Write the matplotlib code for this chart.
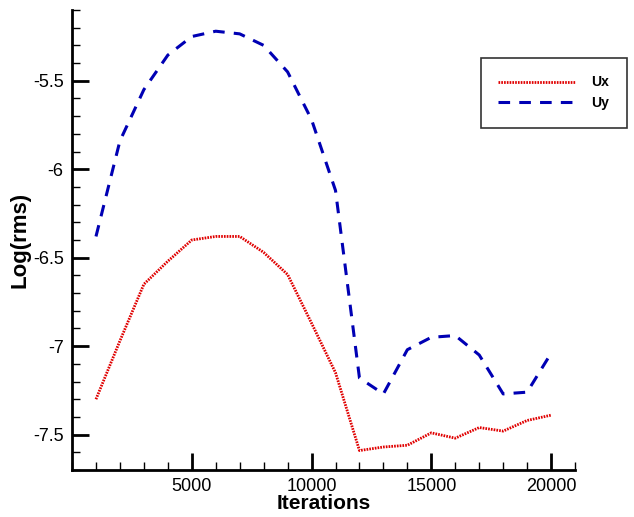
import matplotlib
matplotlib.use('Agg')
import matplotlib.pyplot as plt
from matplotlib.ticker import MultipleLocator, FixedLocator

iterations = list(range(1000, 21000, 1000))
ux = [-7.30, -6.97, -6.65, -6.52, -6.40, -6.38, -6.38, -6.47, -6.595, -6.87,
      -7.15, -7.59, -7.57, -7.56, -7.49, -7.52, -7.46, -7.48, -7.42, -7.39]
uy = [-6.38, -5.84, -5.55, -5.355, -5.25, -5.22, -5.235, -5.30, -5.45, -5.72,
      -6.12, -7.18, -7.27, -7.02, -6.95, -6.94, -7.05, -7.27, -7.26, -7.04]
xticks = [5000, 10000, 15000, 20000]

plt.rcParams['font.family'] = ['Liberation Sans', 'DejaVu Sans']

fig = plt.figure(figsize=(6.34, 5.17), dpi=100)
ax = fig.add_axes([0.1136, 0.0909, 0.7934, 0.8898])

ax.plot(iterations, ux, color='#e00000', linewidth=2, linestyle=(0, (0.6, 0.4)), label='Ux')
ax.plot(iterations, uy, color='#0000b4', linewidth=2.2, linestyle=(0, (3.8, 3)), label='Uy')

ax.set_xlim(0, 21000)
ax.set_ylim(-7.7, -5.1)
ax.xaxis.set_major_locator(FixedLocator(xticks))
ax.xaxis.set_minor_locator(MultipleLocator(1000))
ax.yaxis.set_major_locator(MultipleLocator(0.5))
ax.yaxis.set_minor_locator(MultipleLocator(0.1))
ax.yaxis.set_major_formatter(plt.FuncFormatter(lambda v, p: f'{v:g}'))

ax.tick_params(which='major', direction='in', length=12, width=2, labelsize=13)
ax.tick_params(which='minor', direction='in', length=6, width=1)
ax.tick_params(axis='x', pad=6)
ax.tick_params(axis='y', pad=6)
for s in ['top', 'right']:
    ax.spines[s].set_visible(False)
for s in ['left', 'bottom']:
    ax.spines[s].set_linewidth(2)

ax.set_xlabel('Iterations', fontsize=15, fontweight='bold', labelpad=-1)
ax.set_ylabel('Log(rms)', fontsize=16, fontweight='bold', labelpad=2)

leg = ax.legend(loc='upper left', bbox_to_anchor=(481 / 634, 1 - 58 / 517),
                bbox_transform=fig.transFigure, fancybox=False, edgecolor='black',
                borderaxespad=0, handlelength=5.5, prop={'weight': 'bold', 'size': 10},
                borderpad=1.25, labelspacing=0.5, handletextpad=1.2)
leg.get_frame().set_linewidth(1.2)

fig.savefig('out.png', dpi=100)
